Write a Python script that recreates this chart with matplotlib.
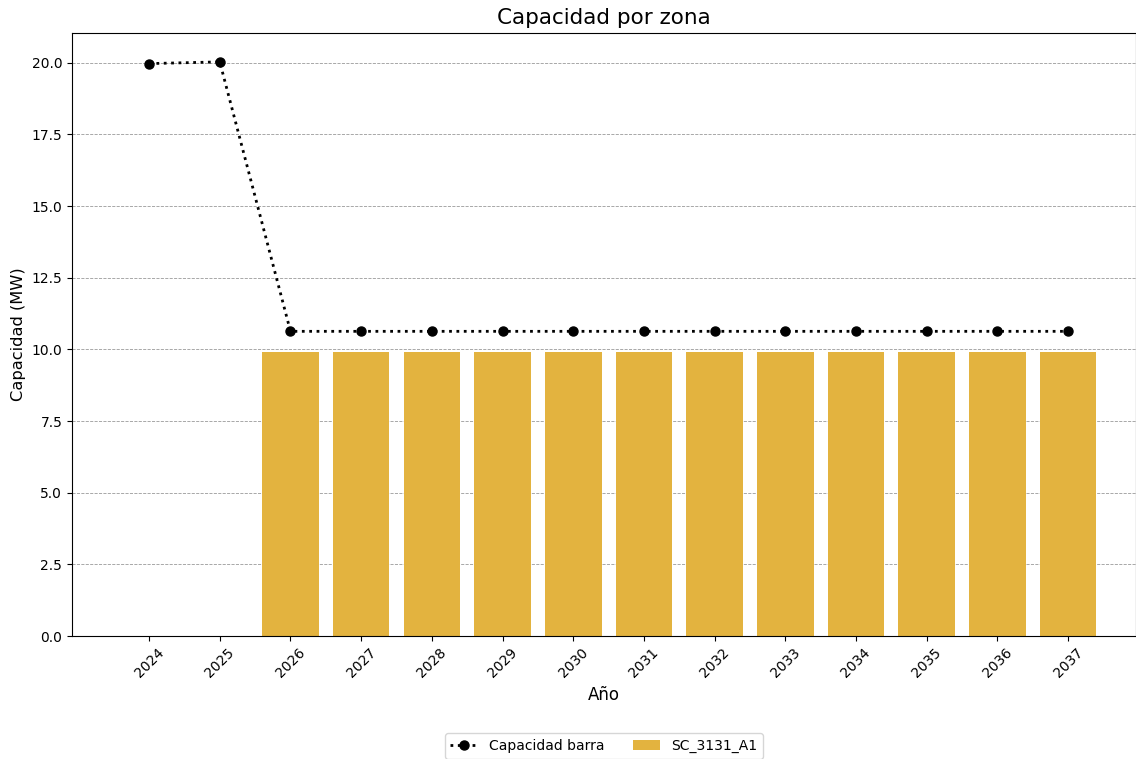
import numpy as np
from matplotlib import pyplot as plt

# data
years = ['2024', '2025', '2026', '2027', '2028', '2029', '2030', '2031',
         '2032', '2033', '2034', '2035', '2036', '2037']
capacidad_barra = [19.97, 20.03, 10.63, 10.63, 10.63, 10.63, 10.63, 10.63,
                   10.63, 10.63, 10.63, 10.63, 10.63, 10.63]
sc_3131_a1 = [0, 0, 9.91, 9.91, 9.91, 9.91, 9.91, 9.91,
              9.91, 9.91, 9.91, 9.91, 9.91, 9.91]

x = np.arange(len(years))

fig = plt.figure(figsize=(11.36, 7.59), dpi=100)
ax = fig.add_axes([0.0634, 0.162, 0.9366, 0.795])

ax.bar(x, sc_3131_a1, width=0.8, color='#e3b33f', label='SC_3131_A1', zorder=2)
ax.plot(x, capacidad_barra, color='black', linestyle=':', linewidth=2,
        marker='o', markersize=6.5, label='Capacidad barra', zorder=3)

ax.set_xticks(x)
ax.set_xticklabels(years, rotation=45)
ax.set_xlim(-1.09, 13.96)
ax.set_ylim(0, 21.05)
ax.set_yticks(np.arange(0, 21, 2.5))
ax.grid(axis='y', linestyle='--', color='gray', linewidth=0.6, alpha=0.8, zorder=0)
ax.set_axisbelow(True)

ax.set_title('Capacidad por zona', fontsize=15.5)
ax.set_xlabel('Año', fontsize=12)
ax.set_ylabel('Capacidad (MW)', fontsize=11.7)

ax.legend(loc='upper center', bbox_to_anchor=(0.5, -0.15), ncol=2, fontsize=10)

fig.savefig('out.png', dpi=100)
